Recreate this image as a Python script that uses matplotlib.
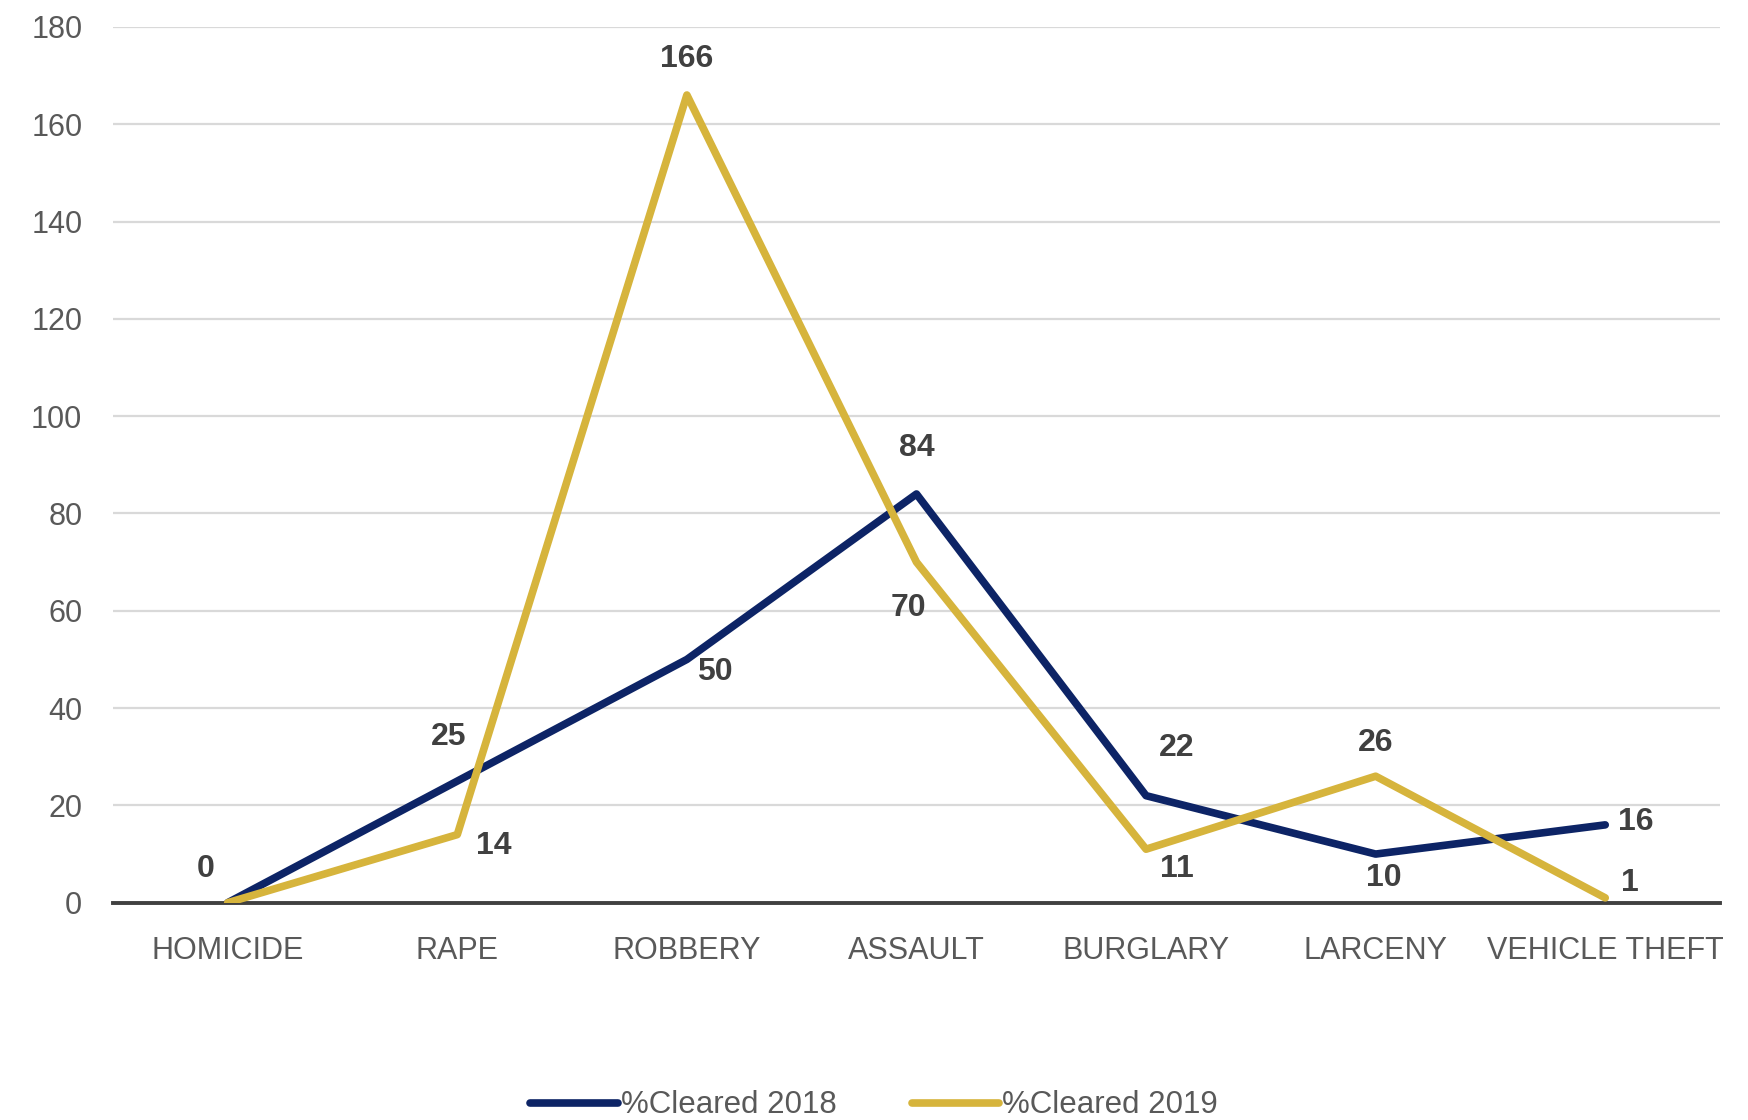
import matplotlib.pyplot as plt

# --- DATA ---
categories = ["HOMICIDE", "RAPE", "ROBBERY", "ASSAULT", "BURGLARY", "LARCENY", "VEHICLE THEFT"]
cleared_2018 = [0, 25, 50, 84, 22, 10, 16]
cleared_2019 = [0, 14, 166, 70, 11, 26, 1]
y_ticks = [0, 20, 40, 60, 80, 100, 120, 140, 160, 180]

# label offsets in points (style only)
offs_2018 = [(-16, 24), (-6, 32), (20, -9), (0, 33), (22, 34), (6, -17), (22, 2)]
offs_2019 = [(-16, 24), (26, -8), (0, 26), (-6, -33), (22, -14), (0, 24), (18, 11)]

NAVY = "#0d2466"
GOLD = "#d6b43c"
FONT = ["Liberation Sans Narrow", "Liberation Sans", "DejaVu Sans"]

plt.rcParams["font.family"] = FONT

fig = plt.figure(figsize=(17.48, 11.2), dpi=100)
ax = fig.add_axes([0.0646, 0.194, 0.9194, 0.782])

x = list(range(len(categories)))
ax.plot(x, cleared_2018, color=NAVY, lw=5.5, label="%Cleared 2018", zorder=3,
        solid_capstyle="round")
ax.plot(x, cleared_2019, color=GOLD, lw=5.5, label="%Cleared 2019", zorder=3,
        solid_capstyle="round")

for i, v in enumerate(cleared_2018):
    ax.annotate(str(v), (i, v), xytext=offs_2018[i], textcoords="offset points",
                ha="center", va="center", fontsize=23, fontweight="bold", color="#404040")
for i, v in enumerate(cleared_2019):
    if i == 0:
        continue  # overlaps the 2018 label
    ax.annotate(str(v), (i, v), xytext=offs_2019[i], textcoords="offset points",
                ha="center", va="center", fontsize=23, fontweight="bold", color="#404040")

ax.set_xlim(-0.5, len(categories) - 0.5)
ax.set_ylim(0, 180)
ax.set_yticks(y_ticks)
ax.set_xticks(x)
ax.set_xticklabels(categories)
ax.tick_params(axis="both", length=0, labelsize=22, labelcolor="#595959")
ax.tick_params(axis="y", pad=22)
ax.tick_params(axis="x", pad=24)

ax.grid(axis="y", color="#d9d9d9", lw=1.6)
ax.set_axisbelow(True)
for s in ["left", "right", "top"]:
    ax.spines[s].set_visible(False)
ax.spines["bottom"].set_color("#404040")
ax.spines["bottom"].set_linewidth(2.8)
ax.spines["bottom"].set_zorder(2)

leg = fig.legend(loc="center", bbox_to_anchor=(0.5, 0.013), ncol=2, frameon=False,
                 fontsize=22.5, handlelength=2.8, handletextpad=0.1, columnspacing=2.4)
for t in leg.get_texts():
    t.set_color("#595959")

fig.savefig("out.png", dpi=100)
